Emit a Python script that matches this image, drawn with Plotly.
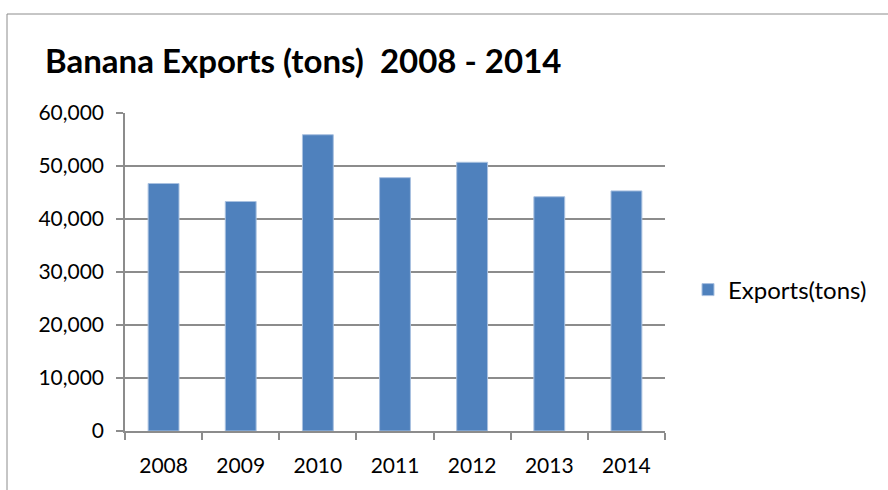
import plotly.graph_objects as go

years = ["2008", "2009", "2010", "2011", "2012", "2013", "2014"]
exports = [46700, 43300, 55900, 47800, 50700, 44200, 45300]
y_ticks = [0, 10000, 20000, 30000, 40000, 50000, 60000]
y_tick_labels = ["0", "10,000", "20,000", "30,000", "40,000", "50,000", "60,000"]

W, H = 888, 490
L, R, T, B = 125, 223, 113, 59
pw, ph = W - L - R, H - T - B

def px_x(x):
    return (x - L) / pw

def px_y(y):
    return (H - B - y) / ph

FONT = "Lato"

fig = go.Figure()
fig.add_trace(go.Bar(
    x=years, y=exports, name="Exports(tons)",
    marker=dict(color="#4F81BD", line=dict(color="#A9C1E0", width=1)),
))

fig.update_layout(
    width=W, height=H,
    margin=dict(l=L, r=R, t=T, b=B),
    paper_bgcolor="white", plot_bgcolor="white",
    bargap=0.6,
    font=dict(family=FONT, size=21, color="black"),
    title=dict(text="<b>Banana Exports (tons)  2008 - 2014</b>",
               x=45 / W, xref="container", xanchor="left",
               y=1 - 61 / H, yref="container", yanchor="middle",
               font=dict(family=FONT, size=33, color="black")),
    showlegend=True,
    legend=dict(x=px_x(688), y=px_y(290), xanchor="left", yanchor="middle",
                font=dict(family=FONT, size=24, color="black"),
                bgcolor="rgba(0,0,0,0)"),
    shapes=[dict(type="rect", xref="paper", yref="paper",
                 x0=px_x(7), x1=px_x(900), y0=px_y(14), y1=px_y(500),
                 line=dict(color="#8C8C8C", width=1), layer="below")],
)

fig.update_xaxes(
    type="category", showline=True, linecolor="#8C8C8C", linewidth=1.5,
    ticks="outside", tickson="boundaries", ticklen=7, tickcolor="#8C8C8C",
    tickwidth=1.5, showgrid=False, ticklabelstandoff=15,
    tickfont=dict(family=FONT, size=21, color="black"),
)
fig.update_yaxes(
    range=[0, 60000], tickvals=y_ticks, ticktext=y_tick_labels,
    showline=True, linecolor="#8C8C8C", linewidth=1.5,
    ticks="outside", ticklen=7, tickcolor="#8C8C8C", tickwidth=1.5,
    showgrid=True, gridcolor="#8C8C8C", gridwidth=1.5,
    zeroline=False, ticklabelstandoff=8,
    tickfont=dict(family=FONT, size=21, color="black"),
)

fig.write_html("out.html", config={"displayModeBar": False},
               post_script="document.body.style.margin='0';document.body.style.overflow='hidden';")
